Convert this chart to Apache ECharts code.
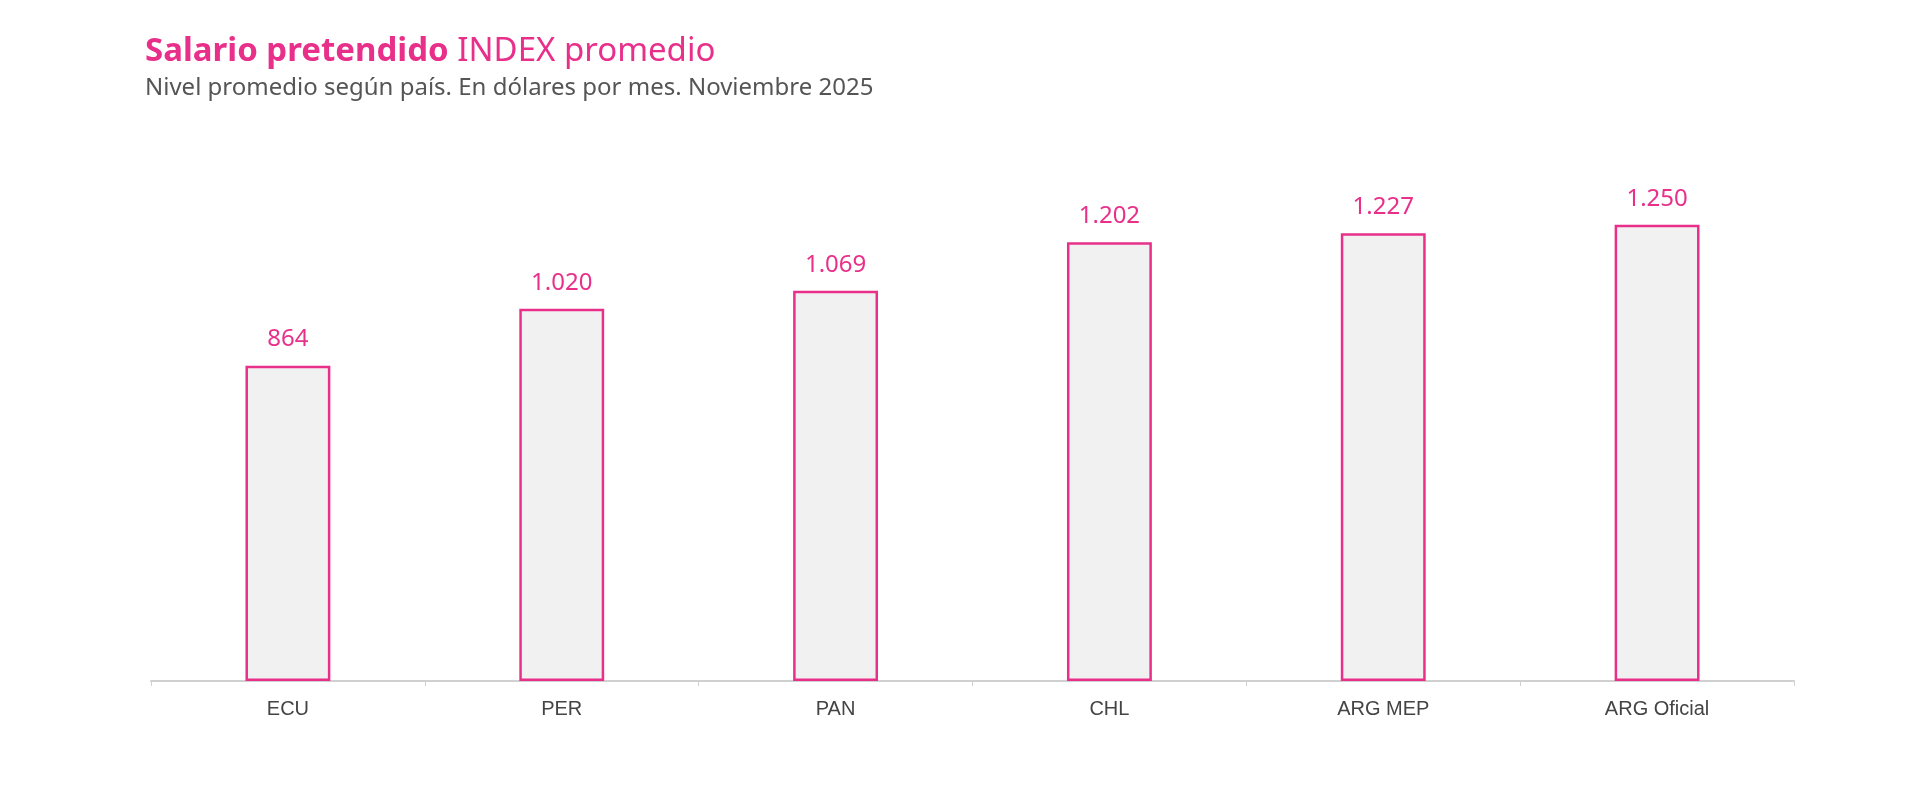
<!DOCTYPE html>
<html>
<head>
<meta charset="utf-8">
<script src="https://cdn.jsdelivr.net/npm/echarts@6/dist/echarts.min.js"></script>
<style>html,body{margin:0;padding:0;background:#fff}#chart{width:1920px;height:803px}</style>
</head>
<body>
<div id="chart"></div>
<script>
var categories = ['ECU', 'PER', 'PAN', 'CHL', 'ARG MEP', 'ARG Oficial'];
var values = [864, 1020, 1069, 1202, 1227, 1250];

var chart = echarts.init(document.getElementById('chart'));
chart.setOption({
	backgroundColor: '#fff',
	title: {
		left: 140,
		top: 30,
		text: '{b|Salario pretendido} INDEX promedio',
		subtext: 'Nivel promedio según país. En dólares por mes. Noviembre 2025',
		itemGap: 8,
		textStyle: {
			fontFamily: 'Noto Sans',
			fontWeight: 'normal',
			fontSize: 33,
			color: '#e8308a',
			rich: {
				b: {fontFamily: 'Noto Sans', fontWeight: 'bold', fontSize: 33, color: '#e8308a'}
			}
		},
		subtextStyle: {fontFamily: 'Noto Sans', fontSize: 24, color: '#555'}
	},
	grid: {left: 151, right: 126, top: 97, bottom: 122},
	xAxis: {
		type: 'category',
		data: categories,
		axisLine: {lineStyle: {color: '#d0d0d0', width: 2}},
		axisTick: {show: true, lineStyle: {color: '#d0d0d0'}},
		axisLabel: {color: '#444', fontFamily: 'Liberation Sans', fontSize: 20, margin: 18}
	},
	yAxis: {
		type: 'value',
		min: 0,
		max: 1600,
		show: false,
		splitLine: {show: false}
	},
	series: [{
		type: 'bar',
		data: values,
		barWidth: '31%',
		itemStyle: {color: '#f2f1f2', borderColor: '#e8308a', borderWidth: 2.5},
		label: {
			show: true,
			position: 'top',
			distance: 14,
			color: '#e8308a',
			fontFamily: 'Noto Sans',
			fontSize: 24,
			formatter: function (p) {
				return p.value.toString().replace(/\B(?=(\d{3})+(?!\d))/g, '.');
			}
		}
	}]
});
</script>
</body>
</html>
